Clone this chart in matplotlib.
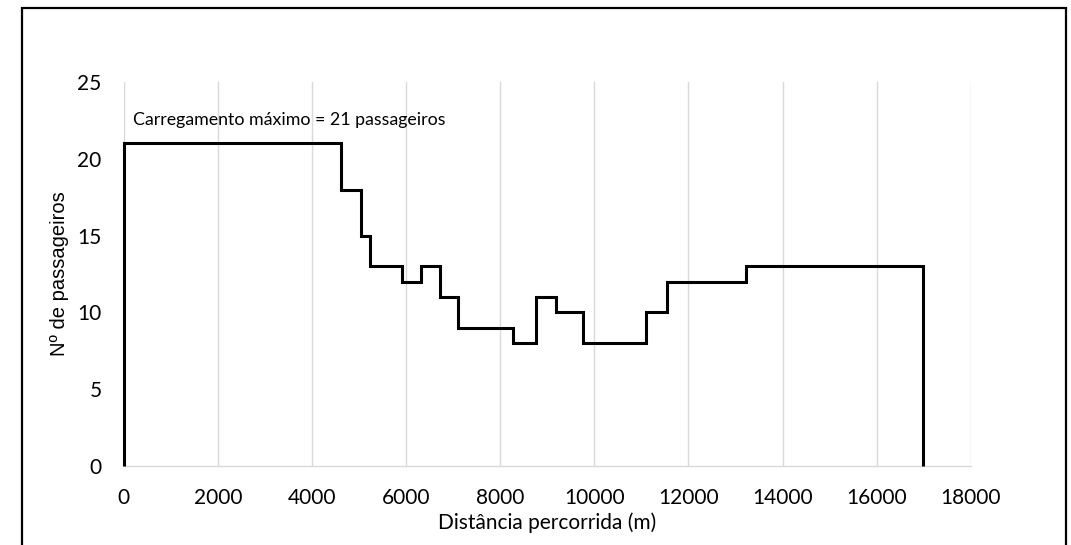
import matplotlib.pyplot as plt
from matplotlib.patches import Rectangle

# distance breakpoints (m) and number of passengers on each stretch
edges = [0, 4610, 5040, 5235, 5910, 6310, 6720, 7110, 8280, 8760,
         9180, 9750, 11090, 11540, 13220, 16980]
passageiros = [21, 18, 15, 13, 12, 13, 11, 9, 8, 11, 10, 8, 10, 12, 13]

xticks = list(range(0, 18001, 2000))
yticks = [0, 5, 10, 15, 20, 25]

fig = plt.figure(figsize=(10.71, 5.45), dpi=100)
ax = fig.add_axes([0.1156, 0.1450, 0.7908, 0.7045])

ax.stairs(passageiros, edges, baseline=0, color="black", linewidth=2.2,
          clip_on=False, zorder=3)

ax.set_xlim(0, 18000)
ax.set_ylim(0, 25)
ax.set_xticks(xticks)
ax.set_yticks(yticks)
ax.grid(axis="x", color="#d9d9d9", linewidth=1.0)
ax.set_axisbelow(True)
for s in ["top", "right", "left"]:
    ax.spines[s].set_visible(False)
ax.spines["bottom"].set_color("#d9d9d9")
ax.spines["bottom"].set_linewidth(1.0)
ax.tick_params(length=0, labelsize=15)
ax.tick_params(axis="x", pad=16)
ax.tick_params(axis="y", pad=16)
for lab in ax.get_xticklabels() + ax.get_yticklabels():
    lab.set_family("Lato")

ax.set_xlabel("Distância percorrida (m)", family="Lato", fontsize=15, labelpad=3)
ax.set_ylabel("Nº de passageiros", family="Liberation Sans", fontsize=14.5, labelpad=6)

ax.text(195, 22.5, "Carregamento máximo = 21 passageiros", family="Lato",
        fontsize=12.8, va="center", ha="left")

# outer chart border
fig.patches.append(Rectangle((21.5 / 1071, -0.05), (1065.7 - 21.5) / 1071,
                             1.05 - 7.5 / 545, transform=fig.transFigure,
                             fill=False, edgecolor="black", linewidth=1.6))

fig.savefig("out.png", dpi=100)
